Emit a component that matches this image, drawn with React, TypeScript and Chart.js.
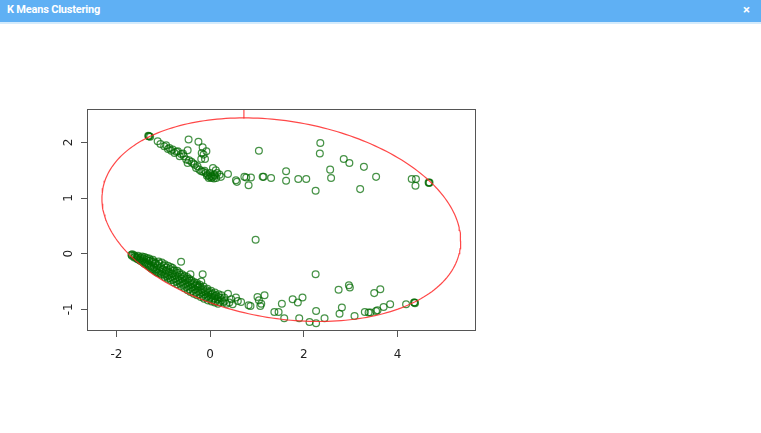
import React, { useEffect, useRef } from "react";
import { Chart, registerables } from "chart.js";

Chart.register(...registerables);

const chartTitle = "K Means Clustering";
const xTickValues = [-2, 0, 2, 4];
const yTickValues = [-1, 0, 1, 2];
const xRange = [-2.606, 5.65];
const yRange = [-1.373, 2.6];

// upper arc of points
const upperCluster: number[][] = [
  [-1.31, 2.11], [-1.3, 2.11], [-1.32, 2.12], [-1.28, 2.1],
  [-1.12, 2.02], [-1.06, 1.97], [-0.94, 1.95], [-0.87, 1.9], [-0.83, 1.85], [-0.76, 1.81],
  [-0.69, 1.84], [-0.62, 1.79], [-0.56, 1.75], [-0.65, 1.75], [-0.51, 1.69], [-0.48, 1.63],
  [-0.4, 1.65], [-0.33, 1.6], [-0.3, 1.54], [-0.23, 1.51], [-0.19, 1.48], [-0.12, 1.49],
  [-0.09, 1.45], [-0.05, 1.42], [-0.01, 1.38], [0.03, 1.36], [0.09, 1.42], [0.13, 1.36],
  [0.06, 1.54], [0.2, 1.42], [0.23, 1.38], [0.38, 1.43], [0.55, 1.32], [0.57, 1.29], [0.73, 1.38],
  [-0.46, 2.05], [-0.25, 2.01], [-0.16, 1.91], [-0.08, 1.84], [-0.18, 1.81], [-0.14, 1.78],
  [-0.19, 1.7], [-0.11, 1.7], [-0.48, 1.86],
  [0.0, 1.45], [0.02, 1.4], [-0.03, 1.36], [0.05, 1.38], [0.08, 1.35], [0.1, 1.4], [-0.07, 1.4],
  [0.15, 1.45], [0.12, 1.5], [-0.15, 1.47], [-0.27, 1.57], [-0.36, 1.62], [-0.58, 1.8],
  [-0.72, 1.83], [-0.8, 1.87], [-0.98, 1.93], [-0.9, 1.88], [-0.45, 1.68],
  [0.77, 1.37], [0.87, 1.37], [0.82, 1.23], [1.04, 1.85], [1.12, 1.38], [1.14, 1.38],
  [1.3, 1.36], [1.62, 1.48], [1.62, 1.31], [1.88, 1.34], [2.05, 1.34], [2.25, 1.13],
  [2.35, 1.99], [2.34, 1.8], [2.56, 1.51], [2.58, 1.36], [2.85, 1.7], [2.97, 1.63],
  [3.28, 1.56], [3.2, 1.16], [3.54, 1.38], [4.3, 1.34], [4.39, 1.34], [4.38, 1.22],
  [4.66, 1.28], [4.67, 1.27], [4.68, 1.28],
];

// isolated point in the middle
const middlePoint: number[][] = [[0.97, 0.25]];

// dense lower band
const lowerBand: number[][] = [
  [-1.68, -0.02], [-1.67, -0.04], [-1.66, -0.01],
  [-1.62, -0.03], [-1.62, -0.07], [-1.6, -0.05],
  [-1.56, -0.06], [-1.55, -0.1], [-1.54, -0.04],
  [-1.5, -0.09], [-1.49, -0.13], [-1.48, -0.07],
  [-1.44, -0.12], [-1.43, -0.16], [-1.42, -0.09],
  [-1.38, -0.15], [-1.37, -0.19], [-1.36, -0.11],
  [-1.32, -0.18], [-1.31, -0.23], [-1.3, -0.13],
  [-1.26, -0.22], [-1.25, -0.27], [-1.24, -0.15], [-1.22, -0.11],
  [-1.2, -0.25], [-1.19, -0.3], [-1.18, -0.18],
  [-1.14, -0.28], [-1.13, -0.34], [-1.12, -0.21], [-1.1, -0.14],
  [-1.08, -0.31], [-1.06, -0.36], [-1.05, -0.24],
  [-1.02, -0.33], [-1.01, -0.28], [-0.99, -0.22], [-0.98, -0.38],
  [-0.95, -0.36], [-0.94, -0.3], [-0.93, -0.25], [-0.92, -0.41],
  [-0.89, -0.39], [-0.88, -0.33], [-0.86, -0.44], [-0.85, -0.28],
  [-0.82, -0.42], [-0.81, -0.36], [-0.79, -0.47], [-0.78, -0.31],
  [-0.75, -0.45], [-0.74, -0.39], [-0.72, -0.5], [-0.71, -0.35],
  [-0.68, -0.48], [-0.67, -0.42], [-0.65, -0.53], [-0.64, -0.38],
  [-0.61, -0.51], [-0.6, -0.45], [-0.58, -0.56], [-0.57, -0.42],
  [-0.54, -0.54], [-0.53, -0.48], [-0.51, -0.6], [-0.5, -0.45],
  [-0.47, -0.58], [-0.46, -0.52], [-0.44, -0.64], [-0.43, -0.49],
  [-0.4, -0.61], [-0.39, -0.55], [-0.37, -0.67], [-0.36, -0.53],
  [-0.33, -0.64], [-0.32, -0.58], [-0.3, -0.7], [-0.29, -0.56],
  [-0.26, -0.67], [-0.25, -0.61], [-0.23, -0.73], [-0.22, -0.59],
  [-0.19, -0.7], [-0.18, -0.65], [-0.16, -0.76], [-0.15, -0.63],
  [-0.12, -0.73], [-0.11, -0.68], [-0.09, -0.79], [-0.08, -0.66],
  [-0.05, -0.76], [-0.04, -0.71], [-0.02, -0.81], [-0.01, -0.69],
  [0.02, -0.78], [0.03, -0.74], [0.05, -0.83], [0.06, -0.72],
  [0.09, -0.8], [0.1, -0.76], [0.12, -0.85], [0.13, -0.75],
  [0.16, -0.82], [0.18, -0.78], [0.2, -0.87], [0.22, -0.8],
  [0.25, -0.84], [0.28, -0.88], [0.31, -0.85], [0.35, -0.9],
  [-1.45, -0.05], [-1.4, -0.06], [-1.35, -0.08], [-1.3, -0.09], [-1.27, -0.12], [-1.2, -0.14],
  [-1.16, -0.17], [-1.08, -0.18], [-1.03, -0.16], [-0.97, -0.19], [-0.9, -0.22], [-0.84, -0.24],
  [-0.8, -0.26], [-0.76, -0.3], [-0.7, -0.31], [-0.66, -0.34], [-0.6, -0.37], [-0.55, -0.4],
  [-0.49, -0.42], [-0.45, -0.45], [-0.4, -0.48], [-0.34, -0.51], [-0.28, -0.53], [-0.22, -0.56],
  [-0.14, -0.59], [-0.06, -0.63], [0.02, -0.67], [0.1, -0.7], [0.18, -0.73], [0.24, -0.75],
  [-1.58, -0.08], [-1.52, -0.11], [-1.46, -0.14], [-1.4, -0.18], [-1.34, -0.21], [-1.28, -0.25],
  [-1.22, -0.28], [-1.16, -0.32], [-1.1, -0.35], [-1.04, -0.38], [-0.97, -0.42], [-0.9, -0.45],
  [-0.84, -0.48], [-0.77, -0.52], [-0.7, -0.55], [-0.62, -0.58], [-0.55, -0.62], [-0.48, -0.66],
  [-0.42, -0.69], [-0.35, -0.72], [-0.28, -0.75], [-0.2, -0.78], [-0.13, -0.81], [-0.05, -0.84],
  [0.03, -0.86], [0.1, -0.88], [0.17, -0.9],
  [0.3, -0.79], [0.38, -0.72], [0.45, -0.82], [0.41, -0.88], [0.48, -0.91],
  [0.55, -0.79], [0.59, -0.85], [0.66, -0.87], [0.82, -0.93], [0.86, -0.94],
  [1.01, -0.78], [1.04, -0.84], [1.07, -0.94], [1.16, -0.75], [1.09, -0.9],
  [-0.62, -0.145], [-0.42, -0.37], [-0.16, -0.37], [-0.19, -0.5], [-0.26, -0.58],
];

// sparse lower right points
const lowerRight: number[][] = [
  [1.37, -1.05], [1.46, -1.05], [1.53, -0.9], [1.58, -1.16], [1.76, -0.82], [1.87, -0.88],
  [1.9, -1.16], [1.97, -0.79], [2.12, -1.23], [2.26, -1.03], [2.26, -1.25], [2.25, -0.37],
  [2.44, -1.16], [2.74, -0.65], [2.96, -0.57], [2.98, -0.61], [2.76, -1.08], [2.81, -0.97],
  [3.08, -1.12], [3.3, -1.05], [3.38, -1.06], [3.42, -1.06], [3.54, -1.03], [3.57, -1.02],
  [3.5, -0.71], [3.63, -0.64], [3.7, -0.96], [3.84, -0.91], [4.18, -0.91],
  [4.36, -0.88], [4.37, -0.89], [4.35, -0.88],
];

// ellipse drawn around the points: centre, x half-extent, y coupling terms
const ellipseCenter = [1.518, 0.61];
const ellipseXRadius = 3.827;
const ellipseYCos = -0.38;
const ellipseYSin = 1.79;
const ellipseSteps = 240;
const ellipseMarkX = 0.72;
const ellipseMarkTop = 2.43;

function ellipsePoints() {
  const pts: { x: number; y: number }[] = [];
  for (let i = 0; i <= ellipseSteps; i++) {
    const t = (i / ellipseSteps) * Math.PI * 2;
    pts.push({
      x: ellipseCenter[0] + ellipseXRadius * Math.cos(t),
      y: ellipseCenter[1] + ellipseYCos * Math.cos(t) + ellipseYSin * Math.sin(t),
    });
  }
  return pts;
}

const toXY = (arr: number[][]) => arr.map(([x, y]) => ({ x, y }));

const POINT_COLOR = "rgba(0,105,0,0.72)";
const RED = "rgba(255,40,40,0.85)";
const AXIS_COLOR = "#555";
const LABEL_FONT = { family: "'DejaVu Sans', sans-serif", size: 12 };

const boxPlugin = {
  id: "boxPlugin",
  afterDraw(chart: any) {
    const { ctx, chartArea } = chart;
    ctx.save();
    ctx.strokeStyle = AXIS_COLOR;
    ctx.lineWidth = 1;
    ctx.strokeRect(
      Math.round(chartArea.left) - 0.5,
      Math.round(chartArea.top) + 0.5,
      Math.round(chartArea.right) - Math.round(chartArea.left) + 1,
      Math.round(chartArea.bottom) - Math.round(chartArea.top)
    );
    ctx.restore();
  },
};

export default function App() {
  const canvasRef = useRef<HTMLCanvasElement | null>(null);

  useEffect(() => {
    document.body.style.margin = "0";
    const canvas = canvasRef.current;
    if (!canvas) return;
    const pointStyle = {
      type: "scatter" as const,
      backgroundColor: "rgba(0,0,0,0)",
      borderColor: POINT_COLOR,
      pointRadius: 3.4,
      pointBorderWidth: 1.25,
      pointHoverRadius: 3.4,
      showLine: false,
    };
    const chart = new Chart(canvas, {
      type: "scatter",
      data: {
        datasets: [
          {
            type: "scatter",
            data: ellipsePoints(),
            showLine: true,
            borderColor: RED,
            borderWidth: 1.2,
            pointRadius: 0,
            fill: false,
            tension: 0,
          } as any,
          {
            type: "scatter",
            data: [
              { x: ellipseMarkX, y: ellipseMarkTop },
              { x: ellipseMarkX, y: yRange[1] },
            ],
            showLine: true,
            borderColor: RED,
            borderWidth: 1.2,
            pointRadius: 0,
            fill: false,
          } as any,
          { ...pointStyle, data: toXY(upperCluster) } as any,
          { ...pointStyle, data: toXY(middlePoint) } as any,
          { ...pointStyle, data: toXY(lowerBand) } as any,
          { ...pointStyle, data: toXY(lowerRight) } as any,
        ],
      },
      options: {
        responsive: false,
        animation: false,
        events: [],
        layout: { padding: { left: 0, right: 286, top: 109, bottom: 63 } },
        plugins: { legend: { display: false }, tooltip: { enabled: false }, title: { display: false } },
        scales: {
          x: {
            type: "linear",
            min: xRange[0],
            max: xRange[1],
            afterBuildTicks: (scale: any) => {
              scale.ticks = xTickValues.map((value) => ({ value }));
            },
            afterFit: (scale: any) => {
              scale.height = 40;
            },
            grid: {
              display: true,
              drawOnChartArea: false,
              drawTicks: true,
              tickLength: 7,
              tickColor: AXIS_COLOR,
              lineWidth: 1,
            },
            border: { display: false },
            ticks: {
              font: LABEL_FONT,
              color: "#222",
              padding: 11,
              maxRotation: 0,
              autoSkip: false,
            },
          },
          y: {
            type: "linear",
            min: yRange[0],
            max: yRange[1],
            afterBuildTicks: (scale: any) => {
              scale.ticks = yTickValues.map((value) => ({ value }));
            },
            afterFit: (scale: any) => {
              scale.width = 88;
            },
            grid: {
              display: true,
              drawOnChartArea: false,
              drawTicks: true,
              tickLength: 7,
              tickColor: AXIS_COLOR,
              lineWidth: 1,
            },
            border: { display: false },
            ticks: {
              font: LABEL_FONT,
              color: "#222",
              padding: 6,
              minRotation: 90,
              maxRotation: 90,
              crossAlign: "center",
              autoSkip: false,
            },
          },
        },
      },
      plugins: [boxPlugin],
    });
    return () => chart.destroy();
  }, []);

  return (
    <div style={{ position: "relative", width: 761, height: 433, background: "#fff", overflow: "hidden" }}>
      <canvas ref={canvasRef} width={761} height={433} style={{ position: "absolute", left: 0, top: 0, width: 761, height: 433 }} />
      <div
        style={{
          position: "absolute",
          left: 0,
          top: 0,
          width: 761,
          height: 22,
          background: "#5fb0f4",
          borderBottom: "2px solid #d4ebfc",
          fontFamily: "Roboto, sans-serif",
          color: "#fff",
          fontWeight: 700,
        }}
      >
        <span style={{ position: "absolute", left: 7, top: 3, fontSize: 11, letterSpacing: -0.2 }}>{chartTitle}</span>
        <span style={{ position: "absolute", right: 11, top: 2, fontSize: 13 }}>×</span>
      </div>
    </div>
  );
}
